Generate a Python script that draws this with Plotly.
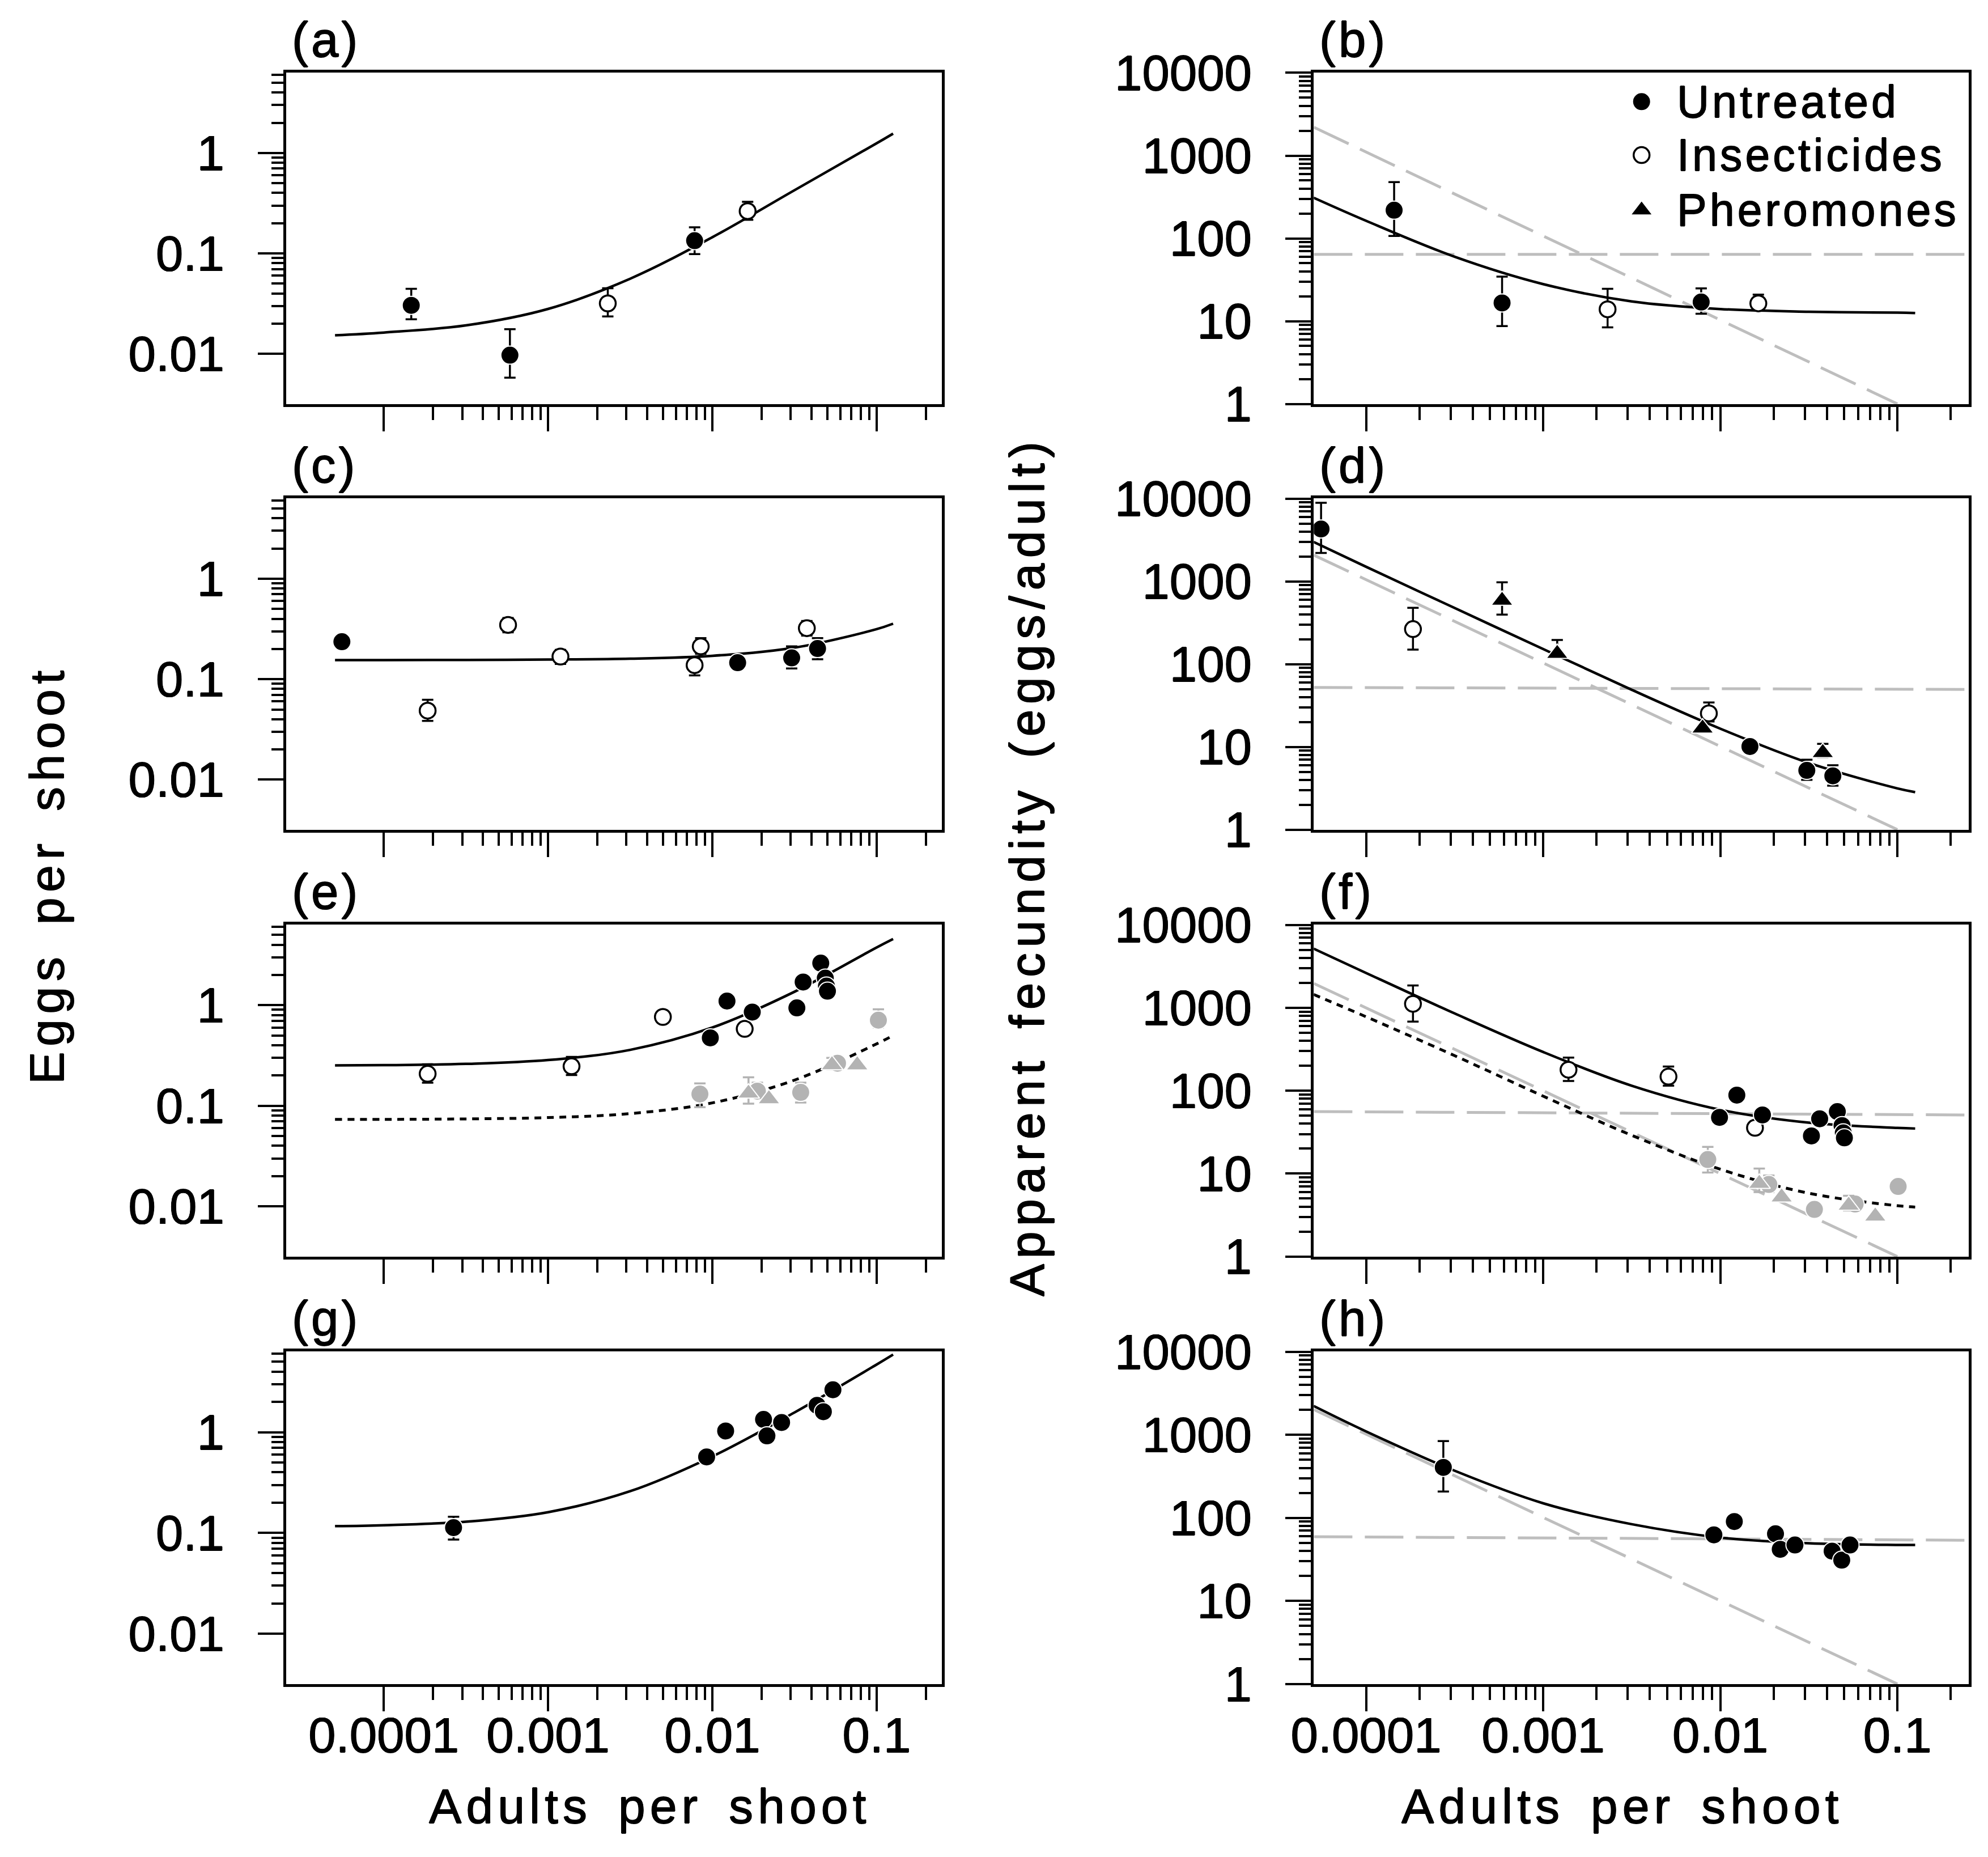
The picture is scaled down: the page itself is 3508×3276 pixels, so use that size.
import plotly.graph_objects as go

# ---------------- data ----------------
# x = adults per shoot; left panels: eggs per shoot, right panels: eggs/adult
# groups: U untreated (filled), I insecticides (open), P pheromones (triangle),
#         gU / gP = same treatments drawn in grey (second generation)

a_x = [0.000147, 0.000586, 0.00231, 0.0078, 0.0164]
a_y = [0.0304, 0.0097, 0.0318, 0.134, 0.264]
a_lo = [0.0221, 0.0058, 0.0236, 0.0986, 0.216]
a_hi = [0.0444, 0.0176, 0.045, 0.182, 0.327]
a_grp = ["U", "U", "I", "U", "I"]

b_x = [0.000144, 0.000586, 0.00231, 0.0078, 0.0164]
b_y = [219, 16.6, 13.9, 17.0, 16.4]
b_lo = [107, 8.7, 8.4, 12.3, 14.0]
b_hi = [479, 34.5, 24.6, 24.9, 20.9]
b_grp = ["U", "U", "I", "U", "I"]

c_x = [5.56e-5, 0.000185, 0.000571, 0.00119, 0.0078, 0.0085, 0.01426, 0.0304, 0.0376, 0.0437]
c_y = [0.236, 0.0486, 0.347, 0.168, 0.138, 0.212, 0.146, 0.163, 0.322, 0.202]
c_lo = [0.236, 0.0384, 0.293, 0.142, 0.109, 0.179, 0.146, 0.128, 0.272, 0.158]
c_hi = [0.236, 0.0623, 0.407, 0.196, 0.165, 0.256, 0.146, 0.212, 0.38, 0.256]
c_grp = ["U", "I", "I", "I", "I", "I", "U", "U", "I", "U"]

d_x = [5.57e-5, 0.000184, 0.000586, 0.0012, 0.00794, 0.00862, 0.0147, 0.0308, 0.0379, 0.0432]
d_y = [4290, 265, 587, 134, 16.8, 25.4, 10.1, 5.2, 8.5, 4.47]
d_lo = [2200, 150, 396, 120, 16.8, 20.3, 10.1, 4.0, 7.5, 3.4]
d_hi = [8900, 480, 975, 196, 16.8, 34.4, 10.1, 7.0, 10.9, 6.0]
d_grp = ["U", "I", "P", "P", "P", "I", "U", "U", "P", "U"]

e_x = [0.000185, 0.00139, 0.005, 0.00972, 0.01228, 0.01574, 0.0175, 0.0327, 0.0357,
       0.0457, 0.0487, 0.0495, 0.0502]
e_y = [0.208, 0.247, 0.765, 0.474, 1.1, 0.582, 0.855, 0.94, 1.7, 2.62, 1.86, 1.55, 1.38]
e_lo = [0.17, 0.202, 0.765, 0.474, 1.1, 0.582, 0.855, 0.94, 1.7, 2.62, 1.86, 1.55, 1.38]
e_hi = [0.259, 0.306, 0.765, 0.474, 1.1, 0.582, 0.855, 0.94, 1.7, 2.62, 1.86, 1.55, 1.38]
e_grp = ["I", "I", "I", "U", "U", "I", "U", "U", "U", "U", "U", "U", "U"]

eg_x = [0.0084, 0.0166, 0.0188, 0.0221, 0.0345, 0.0535, 0.0578, 0.0762, 0.1025]
eg_y = [0.131, 0.133, 0.14, 0.117, 0.136, 0.255, 0.265, 0.254, 0.71]
eg_lo = [0.097, 0.105, 0.12, 0.117, 0.108, 0.23, 0.24, 0.254, 0.6]
eg_hi = [0.167, 0.192, 0.17, 0.117, 0.17, 0.3, 0.31, 0.254, 0.91]
eg_grp = ["gU", "gP", "gU", "gP", "gU", "gP", "gU", "gP", "gU"]

f_x = [0.000184, 0.00139, 0.0051, 0.0099, 0.0124, 0.0157, 0.0173, 0.0327, 0.0364,
       0.0458, 0.0487, 0.0495, 0.0502]
f_y = [1116, 179, 148, 47.7, 88.5, 35.7, 51, 28.5, 45.9, 56, 38, 31, 27]
f_lo = [683, 131, 115, 47.7, 88.5, 35.7, 51, 28.5, 45.9, 56, 38, 31, 27]
f_hi = [1860, 251, 196, 47.7, 88.5, 35.7, 51, 28.5, 45.9, 56, 38, 31, 27]
f_grp = ["I", "I", "I", "U", "U", "I", "U", "U", "U", "U", "U", "U", "U"]

fg_x = [0.0085, 0.0166, 0.0188, 0.0222, 0.034, 0.0531, 0.0577, 0.075, 0.101]
fg_y = [14.8, 7.6, 7.4, 5.2, 3.7, 4.14, 4.3, 3.06, 7.0]
fg_lo = [10.3, 6.0, 6.0, 5.2, 3.3, 3.6, 3.9, 3.06, 6.0]
fg_hi = [21, 11.5, 9.5, 5.2, 4.2, 5.4, 5.0, 3.06, 8.3]
fg_grp = ["gU", "gP", "gU", "gP", "gU", "gP", "gU", "gP", "gU"]

g_x = [0.000266, 0.00923, 0.01205, 0.0205, 0.0215, 0.0264, 0.0434, 0.0474, 0.0542]
g_y = [0.113, 0.569, 1.03, 1.34, 0.92, 1.25, 1.85, 1.6, 2.64]
g_lo = [0.086, 0.569, 1.03, 1.34, 0.92, 1.25, 1.85, 1.6, 2.64]
g_hi = [0.145, 0.569, 1.03, 1.34, 0.92, 1.25, 1.85, 1.6, 2.64]
g_grp = ["U"] * 9

h_x = [0.000273, 0.0092, 0.012, 0.0205, 0.0218, 0.0264, 0.0428, 0.0485, 0.054]
h_y = [406, 62.5, 90.5, 64.4, 41.9, 47.2, 39.8, 31, 47.2]
h_lo = [208, 52, 90.5, 64.4, 36, 47.2, 39.8, 31, 47.2]
h_hi = [843, 72, 90.5, 64.4, 48, 47.2, 39.8, 31, 47.2]
h_grp = ["U"] * 9

# fitted curves, read at these densities
fit_x = [5.05e-5, 1e-4, 3.16e-4, 1e-3, 3.16e-3, 1e-2, 3.16e-2, 1e-1, 0.126]
a_fit = [0.0153, 0.0163, 0.0192, 0.028, 0.056, 0.145, 0.426, 1.25, 1.56]
b_fit = [310, 163, 60, 28, 17.3, 14, 13, 12.65, 12.5]
c_fit = [0.155, 0.155, 0.1555, 0.157, 0.16, 0.171, 0.206, 0.315, 0.357]
d_fit = [3000, 1500, 477, 152, 49, 16.6, 6.4, 3.15, 2.84]
e_fit = [0.252, 0.2535, 0.261, 0.285, 0.36, 0.6, 1.36, 3.75, 4.55]
e_fit2 = [0.0732, 0.0733, 0.0741, 0.0764, 0.0837, 0.107, 0.18, 0.413, 0.5]
f_fit = [5180, 2633, 856, 293, 115, 59, 41.2, 35.6, 35]
f_fit2 = [1450, 780, 265, 86, 29, 11.3, 5.8, 4.1, 3.95]
g_fit = [0.117, 0.1196, 0.1295, 0.161, 0.26, 0.575, 1.57, 4.7, 5.9]
h_fit = [2230, 1100, 370, 150, 84, 58, 49.5, 47.3, 47.2]

# grey reference lines on the fecundity panels
ref_x = [5.07e-5, 0.1]
flat_x = [5.07e-5, 0.253]
b_ref = [2200, 1]
b_flat = [64, 64]
d_ref = [2075, 1]
d_flat = [52.2, 49.5]
f_ref = [1968, 1]
f_flat = [56, 51]
h_ref = [2015, 1]
h_flat = [59.4, 53.8]

panel_labels = ["(a)", "(b)", "(c)", "(d)", "(e)", "(f)", "(g)", "(h)"]
legend_names = ["Untreated", "Insecticides", "Pheromones"]
x_ticks = [0.0001, 0.001, 0.01, 0.1]
x_ticktext = ["0.0001", "0.001", "0.01", "0.1"]
egg_ticks = [0.01, 0.1, 1]
egg_ticktext = ["0.01", "0.1", "1"]
fec_ticks = [1, 10, 100, 1000, 10000]
fec_ticktext = ["1", "10", "100", "1000", "10000"]

# ---------------- styling ----------------
FONT = "Liberation Sans, Arial, sans-serif"
# the scanned lettering is a little heavier than a plain regular face
HEAVY = "0.7px 0 0 #000, -0.7px 0 0 #000, 0 0.7px 0 #000, 0 -0.7px 0 #000"
GREY = "#b3b3b3"
DASH_GREY = "#bebebe"
DASH = "68px,22px"

STY = {
    "U": dict(symbol="circle", color="black", size=32, line=dict(color="white", width=2)),
    "I": dict(symbol="circle", color="white", size=28, line=dict(color="black", width=3.5)),
    "P": dict(symbol="triangle-up", color="black", size=34, line=dict(color="white", width=2)),
    "gU": dict(symbol="circle", color=GREY, size=32, line=dict(color="white", width=2)),
    "gP": dict(symbol="triangle-up", color=GREY, size=34, line=dict(color="white", width=2)),
}

# page geometry: the photographed page lands slightly shrunk and offset,
# so target pixel positions are mapped back
W, H = 3508, 3276
OX, SX, OY, SY = 50.0, 0.988, 58.0, 0.968


def px_x(p):
    return (p - OX) / SX / W


def px_y(p):
    return 1 - (p - OY) / SY / H


def spaced(text, ls, ws=0):
    # the original lettering is tracked out
    return f'<span style="letter-spacing:{ls}px;word-spacing:{ws}px">{text}</span>'


def tfont(size):
    return dict(family=FONT, size=size, color="black", shadow=HEAVY)


fig = go.Figure()


def ax_ref(n):
    return ("x" if n == 1 else f"x{n}"), ("y" if n == 1 else f"y{n}")


def add_line(n, xs, ys, color="black", width=4.5, dash="solid", spline=True):
    xr, yr = ax_ref(n)
    fig.add_trace(go.Scatter(
        x=xs, y=ys, mode="lines", xaxis=xr, yaxis=yr,
        line=dict(color=color, width=width, dash=dash,
                  shape="spline" if spline else "linear"),
        hoverinfo="skip"))


def add_points(n, xs, ys, lo, hi, grp):
    xr, yr = ax_ref(n)
    for key in ["gU", "gP", "I", "U", "P"]:
        idx = [i for i, g in enumerate(grp) if g == key]
        if not idx:
            continue
        px = [xs[i] for i in idx]
        py = [ys[i] for i in idx]
        up = [hi[i] - ys[i] for i in idx]
        dn = [ys[i] - lo[i] for i in idx]
        ecol = GREY if key.startswith("g") else "black"
        fig.add_trace(go.Scatter(
            x=px, y=py, mode="markers", xaxis=xr, yaxis=yr,
            marker=STY[key],
            error_y=dict(type="data", symmetric=False, array=up, arrayminus=dn,
                         color=ecol, thickness=3.5, width=10),
        ))


# grey reference lines first (behind everything)
for n, r, fl in [(2, b_ref, b_flat), (4, d_ref, d_flat), (6, f_ref, f_flat), (8, h_ref, h_flat)]:
    add_line(n, ref_x, r, color=DASH_GREY, width=5, dash=DASH, spline=False)
    add_line(n, flat_x, fl, color=DASH_GREY, width=5, dash=DASH, spline=False)

# fitted curves
add_line(1, fit_x, a_fit)
add_line(2, fit_x, b_fit)
add_line(3, fit_x, c_fit)
add_line(4, fit_x, d_fit)
add_line(5, fit_x, e_fit)
add_line(5, fit_x, e_fit2, width=5, dash="12px,10px")
add_line(6, fit_x, f_fit)
add_line(6, fit_x, f_fit2, width=5, dash="12px,10px")
add_line(7, fit_x, g_fit)
add_line(8, fit_x, h_fit)

# observations
add_points(1, a_x, a_y, a_lo, a_hi, a_grp)
add_points(2, b_x, b_y, b_lo, b_hi, b_grp)
add_points(3, c_x, c_y, c_lo, c_hi, c_grp)
add_points(4, d_x, d_y, d_lo, d_hi, d_grp)
add_points(5, eg_x, eg_y, eg_lo, eg_hi, eg_grp)
add_points(5, e_x, e_y, e_lo, e_hi, e_grp)
add_points(6, fg_x, fg_y, fg_lo, fg_hi, fg_grp)
add_points(6, f_x, f_y, f_lo, f_hi, f_grp)
add_points(7, g_x, g_y, g_lo, g_hi, g_grp)
add_points(8, h_x, h_y, h_lo, h_hi, h_grp)

# ---------------- axes ----------------
col_px = [(507, 1663), (2319, 3474)]                       # box left/right in the reference
row_px = [(130, 713), (879, 1462), (1629, 2213), (2380, 2965)]  # box top/bottom
x_range = [[-4.593, -0.603], [-4.295, -0.597]]
y_range = [[-2.5, 0.8], [-0.002, 4.002]]

x_minor = [m * 10.0 ** e for e in (-4, -3, -2, -1) for m in range(2, 10)]
egg_minor = [m * 10.0 ** e for e in (-2, -1, 0) for m in range(2, 10)]
fec_minor = [m * 10.0 ** e for e in (0, 1, 2, 3) for m in range(2, 10)]

layout_axes = {}
for n in range(1, 9):
    col = (n - 1) % 2
    row = (n - 1) // 2
    x0, x1 = col_px[col]
    t, b = row_px[row]
    common = dict(type="log", showline=True, linecolor="black", linewidth=5, mirror=True,
                  ticks="outside", tickcolor="black", tickwidth=4, showgrid=False,
                  zeroline=False, tickfont=tfont(87), tickmode="array")
    xk = "xaxis" if n == 1 else f"xaxis{n}"
    yk = "yaxis" if n == 1 else f"yaxis{n}"
    layout_axes[xk] = dict(
        common, domain=[px_x(x0), px_x(x1)], anchor=ax_ref(n)[1], range=x_range[col],
        tickvals=x_ticks, ticktext=x_ticktext, ticklen=43,
        showticklabels=(row == 3), ticklabelstandoff=-32,
        minor=dict(tickvals=x_minor, ticks="outside", ticklen=23, tickwidth=4,
                   tickcolor="black", showgrid=False))
    layout_axes[yk] = dict(
        common, domain=[px_y(b), px_y(t)], anchor=ax_ref(n)[0], range=y_range[col],
        tickvals=egg_ticks if col == 0 else fec_ticks,
        ticktext=egg_ticktext if col == 0 else fec_ticktext,
        ticklen=45, ticklabelstandoff=42,
        minor=dict(tickvals=egg_minor if col == 0 else fec_minor, ticks="outside",
                   ticklen=21, tickwidth=4, tickcolor="black", showgrid=False))

# overlay axis in paper units for the hand-placed legend symbols
layout_axes["xaxis9"] = dict(domain=[0, 1], range=[0, 1], visible=False, anchor="y9")
layout_axes["yaxis9"] = dict(domain=[0, 1], range=[0, 1], visible=False, anchor="x9")

leg_y = [px_y(181), px_y(275), px_y(372)]
for key, yy in zip(["U", "I", "P"], leg_y):
    fig.add_trace(go.Scatter(x=[px_x(2897)], y=[yy], mode="markers", xaxis="x9", yaxis="y9",
                             marker=STY[key], hoverinfo="skip"))

annotations = []
for name, yy in zip(legend_names, leg_y):
    annotations.append(dict(text=spaced(name, 5), x=px_x(2957), y=yy, xref="paper",
                            yref="paper", xanchor="left", yanchor="middle", showarrow=False,
                            font=tfont(79)))

# panel letters
for n, lab in enumerate(panel_labels, start=1):
    col = (n - 1) % 2
    row = (n - 1) // 2
    annotations.append(dict(text=spaced(lab, 5), x=px_x(col_px[col][0] + 8),
                            y=px_y(row_px[row][0] - 59),
                            xref="paper", yref="paper", xanchor="left", yanchor="middle",
                            showarrow=False, font=tfont(87)))

title_y = 1 - 3225 / H          # as low as the page allows without clipping descenders
annotations += [
    dict(text=spaced("Adults per shoot", 8, 15), x=px_x(1148), y=title_y, xref="paper",
         yref="paper", showarrow=False, xanchor="center", yanchor="middle", font=tfont(86)),
    dict(text=spaced("Adults per shoot", 8, 15), x=px_x(2863), y=title_y, xref="paper",
         yref="paper", showarrow=False, xanchor="center", yanchor="middle", font=tfont(86)),
    dict(text=spaced("Eggs per shoot", 9.5, 14), x=35 / W, y=px_y(1541), xref="paper",
         yref="paper", showarrow=False, textangle=-90, xanchor="center", yanchor="middle",
         font=tfont(86)),
    dict(text=spaced("Apparent fecundity (eggs/adult)", 9.5, 14), x=px_x(1813), y=px_y(1526),
         xref="paper", yref="paper", showarrow=False, textangle=-90, xanchor="center",
         yanchor="middle", font=tfont(86)),
]

fig.update_layout(
    width=W, height=H,
    margin=dict(l=0, r=0, t=0, b=0),
    paper_bgcolor="white",
    plot_bgcolor="rgba(0,0,0,0)",
    showlegend=False,
    annotations=annotations,
    **layout_axes,
)

fig.write_html("out.html")
